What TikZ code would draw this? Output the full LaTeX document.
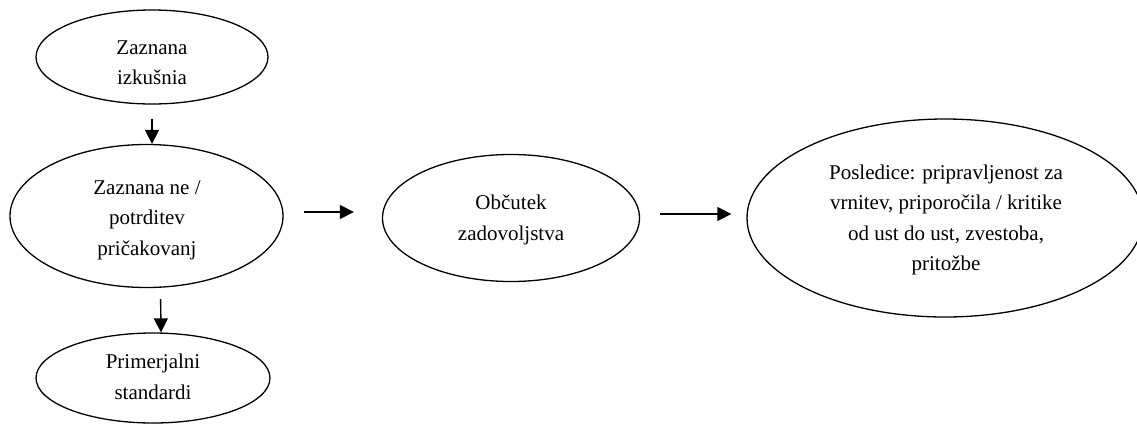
\documentclass[tikz,border=0pt]{standalone}
\usepackage{fontspec}
\setmainfont{Liberation Serif}
\usetikzlibrary{shapes.geometric,arrows.meta}
\begin{document}
\begin{tikzpicture}[x=1pt,y=-1pt,
  ell/.style={draw,ellipse,line width=1.3pt,inner sep=0pt},
  txt/.style={align=center,font=\fontsize{21}{30.5}\selectfont,inner sep=0pt},
  arr/.style={line width=1.4pt,-{Triangle[length=14pt,width=14pt]}}]
\useasboundingbox (0,0) rectangle (1137,426);
\node[ell,minimum width=232pt,minimum height=94pt] (e1) at (152,57) {};
\node[ell,minimum width=273pt,minimum height=143pt] (e2) at (146.5,216) {};
\node[ell,minimum width=234pt,minimum height=90pt] (e3) at (153,378) {};
\node[ell,minimum width=257pt,minimum height=127pt] (e4) at (511,218) {};
\node[ell,minimum width=396pt,minimum height=198pt] (e5) at (945,218) {};
\node[txt] (t1) at (152,62.5) {Zaznana\\izkušnia};
\node[txt] (t2) at (147,220) {Zaznana ne /\\potrditev\\pričakovanj};
\node[txt] (t3) at (153,377) {Primerjalni\\standardi};
\node[txt] (t4) at (511,220) {Občutek\\zadovoljstva};
\node[txt] (t5) at (946,220) {Posledice: pripravljenost za\\vrnitev, priporočila / kritike\\od ust do ust, zvestoba,\\pritožbe};
\draw[arr,shorten <=14pt] (e1.south) -- (e1.south |- e2.north);
\draw[arr,shorten <=11pt] ([xshift=14pt]e2.south) -- ([xshift=8pt]e3.north);
\draw[arr,shorten <=20pt,shorten >=28pt] ([yshift=4pt]e2.east) -- ([yshift=4pt]e2.east -| e4.west);
\draw[arr,shorten <=20pt,shorten >=15pt] ([yshift=4pt]e4.east) -- ([yshift=4pt]e4.east -| e5.west);
\end{tikzpicture}
\end{document}
